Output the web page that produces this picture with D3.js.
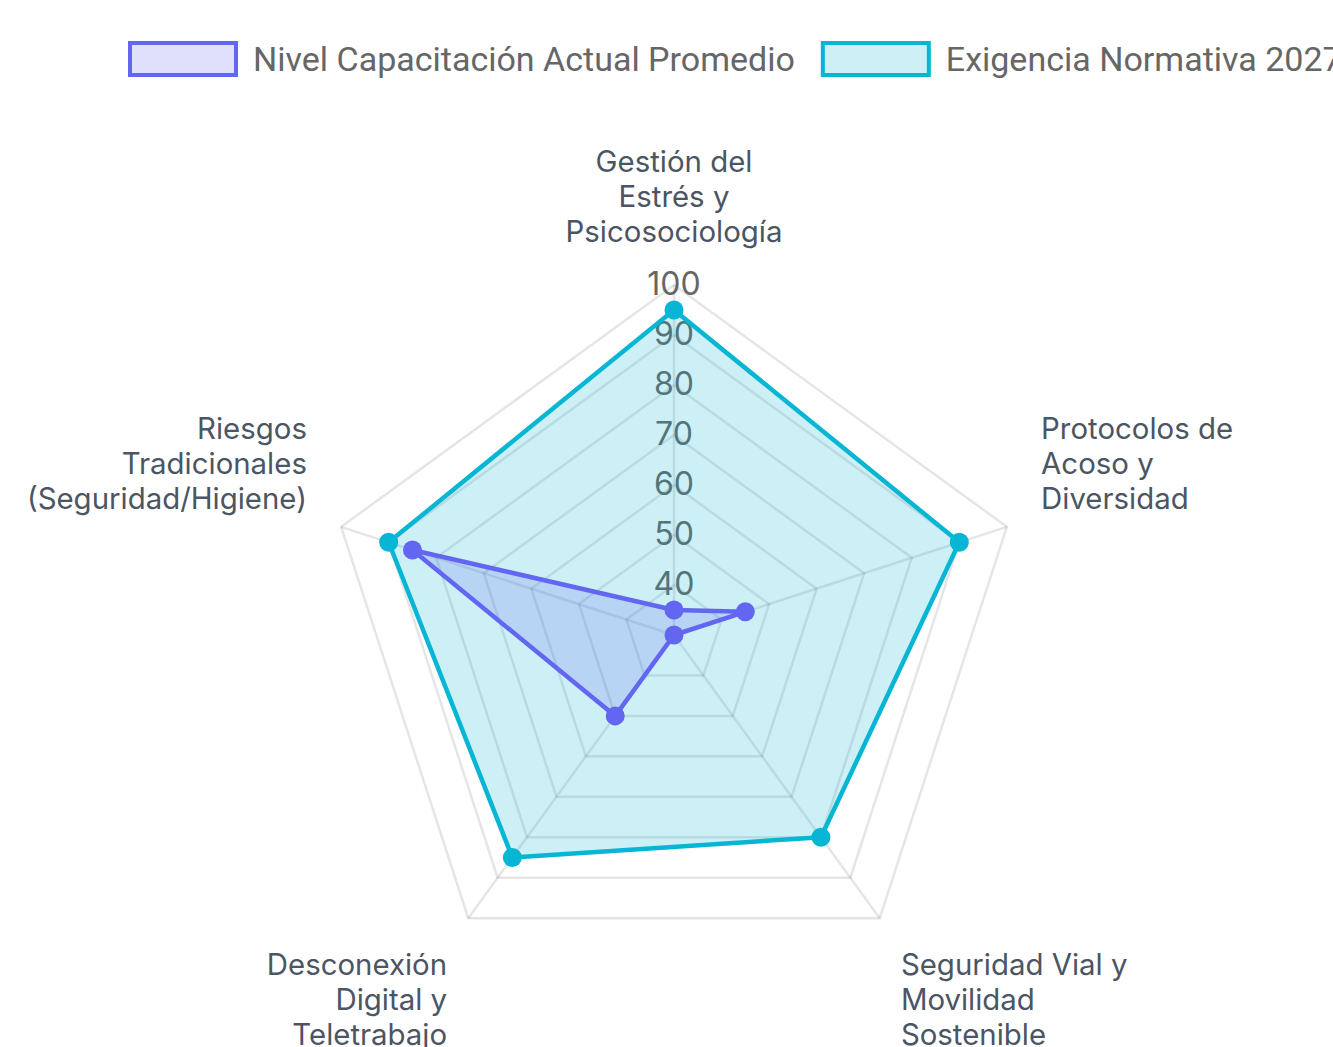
<!DOCTYPE html>
<html>
<head>
<meta charset="utf-8">
<script src="https://cdn.jsdelivr.net/npm/d3@7"></script>
<style>
  html, body { margin: 0; padding: 0; background: #fff; overflow: hidden; }
</style>
</head>
<body>
<div id="chart"></div>
<script>
// Data
const categories = [
    ["Gestión del", "Estrés y", "Psicosociología"],
    ["Protocolos de", "Acoso y", "Diversidad"],
    ["Seguridad Vial y", "Movilidad", "Sostenible"],
    ["Desconexión", "Digital y", "Teletrabajo"],
    ["Riesgos", "Tradicionales", "(Seguridad/Higiene)"]
];
const seriesNames = ["Nivel Capacitación Actual Promedio", "Exigencia Normativa 2027"];
const actualValues = [35, 45, 30, 50, 85];
const normativaValues = [95, 90, 80, 85, 90];
const tickValues = [40, 50, 60, 70, 80, 90, 100];
const seriesColors = ["#6366f1", "#06b6d4"];
const seriesFills = ["rgba(99,102,241,0.2)", "rgba(6,182,212,0.2)"];

/**
 * Proportions
 */
let svgWidth = 1333;
let svgHeight = 1047;
let cx = 674;
let cy = 635;
let radius = 350;
let labelPad = 36;
let lineHeight = 35;

const svg = d3.select("#chart")
    .append("svg")
    .attr("width", svgWidth)
    .attr("height", svgHeight);

const r = d3.scaleLinear().domain([30, 100]).range([0, radius]);
const angle = d3.scaleLinear().domain([0, categories.length]).range([0, 2 * Math.PI]);

function point(i, dist) {
    const a = angle(i);
    return [cx + Math.sin(a) * dist, cy - Math.cos(a) * dist];
}

// grid rings
const gridG = svg.append("g");
tickValues.forEach(t => {
    const pts = categories.map((_, i) => point(i, r(t)));
    gridG.append("path")
        .attr("d", d3.line()(pts) + "Z")
        .attr("fill", "none")
        .attr("stroke", "rgba(0,0,0,0.1)")
        .attr("stroke-width", 2.5);
});

// angle lines
categories.forEach((_, i) => {
    const p = point(i, r(100));
    gridG.append("line")
        .attr("x1", cx).attr("y1", cy)
        .attr("x2", p[0]).attr("y2", p[1])
        .attr("stroke", "rgba(0,0,0,0.1)")
        .attr("stroke-width", 2.5);
});

// tick labels
svg.append("g").selectAll("text")
    .data(tickValues)
    .join("text")
    .attr("x", cx)
    .attr("y", d => cy - r(d) - 2)
    .attr("text-anchor", "middle")
    .attr("dominant-baseline", "central")
    .attr("font-family", "Inter, sans-serif")
    .attr("font-size", 32)
    .attr("fill", "#666")
    .text(d => d);

// point labels
const labelG = svg.append("g");
categories.forEach((lines, i) => {
    const p = point(i, radius + labelPad);
    const deg = (angle(i) * 180 / Math.PI) % 360;
    let anchor = "middle";
    if (Math.abs(deg) > 1 && Math.abs(deg - 180) > 1) anchor = deg < 180 ? "start" : "end";
    const h = lines.length * lineHeight;
    let top = p[1];
    if (deg > 270 || deg < 90) top = p[1] - h;
    const t = labelG.append("text")
        .attr("text-anchor", anchor)
        .attr("font-family", "Inter, sans-serif")
        .attr("font-size", 29.4)
        .attr("fill", "#4b5563");
    lines.forEach((s, j) => {
        t.append("tspan")
            .attr("x", p[0])
            .attr("y", top + lineHeight * j + lineHeight / 2)
            .attr("dominant-baseline", "central")
            .text(s);
    });
});

// datasets (first series drawn on top)
const datasets = [actualValues, normativaValues];
for (let k = datasets.length - 1; k >= 0; k--) {
    const vals = datasets[k];
    const pts = vals.map((v, i) => point(i, r(v)));
    const g = svg.append("g");
    g.append("path")
        .attr("d", d3.line()(pts) + "Z")
        .attr("fill", seriesFills[k])
        .attr("stroke", seriesColors[k])
        .attr("stroke-width", 4.5)
        .attr("stroke-linejoin", "round");
    g.selectAll("circle")
        .data(pts)
        .join("circle")
        .attr("cx", d => d[0])
        .attr("cy", d => d[1])
        .attr("r", 9.5)
        .attr("fill", seriesColors[k]);
}

// legend
const legendG = svg.append("g");
let lx = 128;
seriesNames.forEach((name, k) => {
    legendG.append("rect")
        .attr("x", lx + 2)
        .attr("y", 43)
        .attr("width", 106)
        .attr("height", 32)
        .attr("fill", seriesFills[k])
        .attr("stroke", seriesColors[k])
        .attr("stroke-width", 4);
    const txt = legendG.append("text")
        .attr("x", lx + 125)
        .attr("y", 59)
        .attr("dominant-baseline", "central")
        .attr("font-family", "Roboto, sans-serif")
        .attr("font-size", 34)
        .attr("fill", "#666")
        .text(name);
    lx += 125 + txt.node().getComputedTextLength() + 26;
});
</script>
</body>
</html>
